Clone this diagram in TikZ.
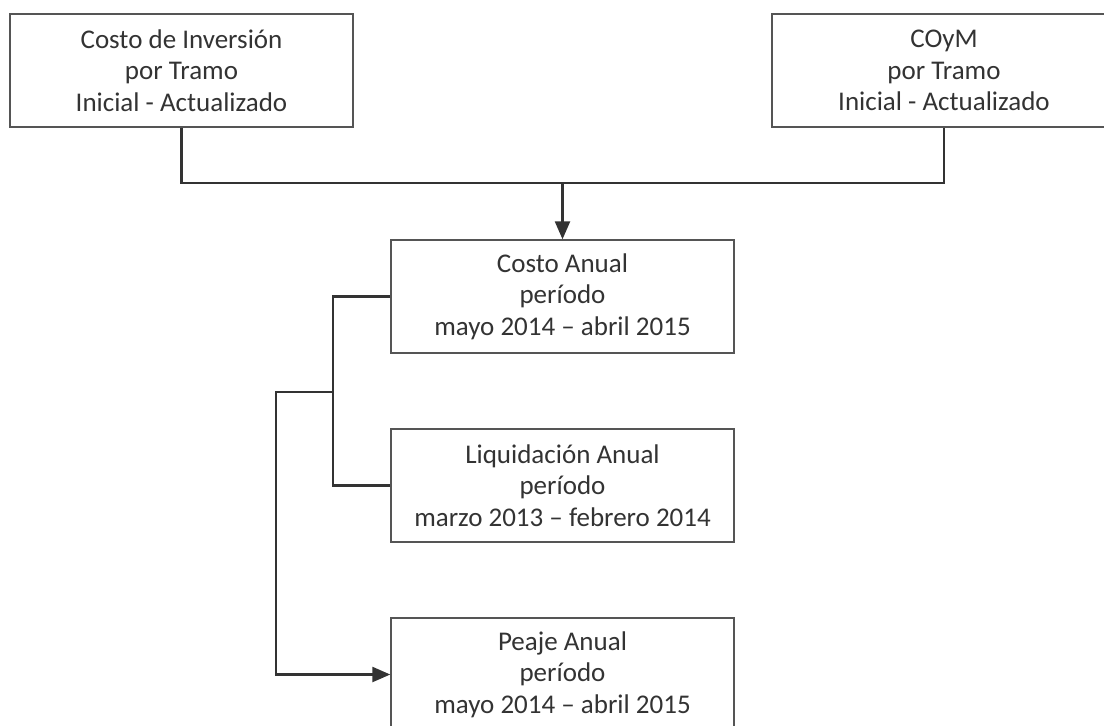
\documentclass[tikz,border=0pt]{standalone}
\usepackage{fontspec}
\setmainfont{Carlito}
\usetikzlibrary{arrows.meta}
\definecolor{txt}{HTML}{333333}
\definecolor{ln}{HTML}{333333}
\definecolor{bx}{HTML}{555555}
\begin{document}
\begin{tikzpicture}[x=1pt,y=-1pt,
  box/.style={draw=bx, line width=1.4pt, fill=white, minimum width=343pt, minimum height=113pt,
    inner sep=0pt, align=center, text=txt, font=\fontsize{27}{31.5}\selectfont},
  conn/.style={draw=ln, line width=2.4pt},
  arr/.style={conn, -{Triangle[length=18pt,width=15pt]}}]
\useasboundingbox (0,0) rectangle (1104,726);
\clip (0,0) rectangle (1104,726);
\fill[white] (0,0) rectangle (1104,726);
\node[box] (b1) at (181.5,70.5) {Costo de Inversión\\por Tramo\\Inicial - Actualizado};
\node[box, minimum width=344pt] (b2) at (944,70.5) {COyM\\por Tramo\\Inicial - Actualizado};
\node[box] (b3) at (562.5,296.5) {Costo Anual\\período\\mayo 2014 – abril 2015};
\node[box] (b4) at (562.5,485.5) {Liquidación Anual\\período\\marzo 2013 – febrero 2014};
\node[box] (b5) at (562.5,674.5) {Peaje Anual\\período\\mayo 2014 – abril 2015};
\coordinate (j) at (562.5,183);
\coordinate (k) at (333,296.5);
\coordinate (m) at (333,392);
\coordinate (n) at (276,392);
\draw[conn] (b1.south) |- (j) -| (b2.south);
\draw[arr] (j) -- (b3.north);
\draw[conn] (b3.west) -- (k) |- (b4.west);
\draw[arr] (m) -- (n) |- (b5.west);
\end{tikzpicture}
\end{document}
